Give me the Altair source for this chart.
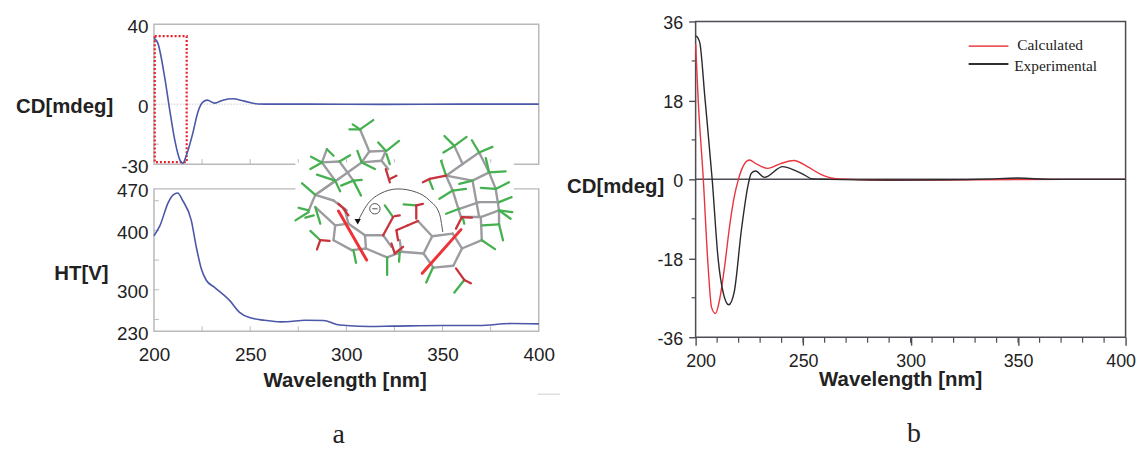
import altair as alt
import pandas as pd

# ---------- curve values ----------
CD_W = [200, 202, 205.6, 208.2, 210.8, 213.4, 215, 216.7, 220.2, 222.8, 225.4, 227.7, 231.5, 235.8, 241, 247, 254, 262, 280, 320, 360, 400]
CD_V = [33, 30.5, 13.3, -3, -17.9, -27.7, -29.5, -26, -14.5, -4, 1, 2, 0.5, 2, 2.7, 1.5, 0.1, 0, 0, -0.1, 0, 0]

HT_W = [200, 203.1, 207.4, 210, 212.3, 215, 219.4, 222, 224.6, 227.2, 231.5, 239.3, 244.5, 249.6, 257.5, 265.8, 269, 278.7, 288.2, 295, 300, 312, 324, 350, 369, 386, 400]
HT_V = [391, 408, 447, 460, 463, 450, 417, 372, 335.5, 316, 304, 282, 262, 253, 248.5, 245.8, 246, 248.7, 248.2, 241.4, 239.8, 238, 238.6, 239.8, 239.8, 243, 242.5]

EXP_W = [200, 201, 202, 204.3, 207.7, 210.5, 212.8, 215.4, 217.9, 221.3, 224.4, 225.9, 227.9, 232, 240.5, 245.9, 250.5, 254.3, 262, 290, 315, 335, 350, 365, 400]
EXP_V = [32.7, 32.3, 31, 18.7, 0, -18.3, -25.8, -28.6, -25.8, -11.5, -1.3, 1.4, 1.9, 0.45, 2.9, 2.1, 1, 0.1, 0, -0.15, -0.1, 0.05, 0.3, 0, 0]

CALC_W = [200, 201.2, 203.5, 205.8, 207.4, 209.2, 211.2, 213.5, 215.8, 218, 219.9, 222, 225, 228, 233.5, 239.6, 245.7, 252, 258, 264.4, 272, 290, 315, 350, 400]
CALC_V = [30.8, 18, 0.6, -19.8, -29.2, -30.6, -27.3, -19.8, -10.7, -3.9, 0, 2.9, 4.4, 3.6, 2.5, 3.6, 4.3, 2.9, 1.2, 0.2, 0, -0.2, -0.15, -0.05, 0]

# ---------- axis ticks ----------
W_TICKS = [200, 250, 300, 350, 400]
W_INNER = [225, 250, 275, 300, 325, 350, 375]
W_MINOR = list(range(210, 400, 10))
CD_TICKS = [-30, -20, 0, 20, 40]
CD_INNER = [-20]
HT_TICKS = [230, 300, 400, 470]
HT_INNER = [250, 300, 350, 400, 450]
B_TICKS = [-36, -18, 0, 18, 36]
B_MINOR = [-27, -9, 9, 27]

# ---------- molecule inset, in inset coordinates ----------
GRAY = [(240,85,268,152),(268,152,318,150),(318,150,305,180),(305,180,325,205),(268,152,245,185),(245,185,305,180),
        (245,185,175,235),(175,235,105,283),(105,283,85,330),(140,145,125,185),(125,185,178,182),(178,182,220,240),
        (125,185,165,240),(165,240,105,283),(105,283,160,300),(160,300,200,330),(105,320,165,375),(165,375,205,370),
        (205,370,255,405),(255,405,258,445),(258,445,215,450),(215,450,160,420),(160,420,165,375),(205,370,195,330),
        (255,405,310,405),(310,405,335,440),(258,445,322,472),(322,472,365,455),(365,455,360,420),(365,455,432,460),
        (432,460,458,408),(458,408,415,362),(458,408,520,400),(520,400,548,445),(548,445,522,497),(522,497,462,503),
        (462,503,432,460),(548,445,608,420),(608,420,605,350),(605,350,545,350),(545,350,520,270),(520,270,500,225),
        (500,225,550,190),(550,190,525,135),(550,190,600,155),(600,155,630,215),(630,215,580,240),(580,240,500,225),
        (580,240,600,350),(630,215,650,265),(650,265,660,330),(660,330,605,350),(540,325,600,305),(600,305,660,305),
        (660,330,660,372)]
GREEN = [(240,85,280,57),(240,85,218,70),(240,85,208,85),(320,150,358,120),(318,150,295,125),(320,160,330,190),
         (245,185,232,150),(245,185,285,205),(140,145,160,165),(125,185,92,168),(125,185,90,205),(178,182,210,163),
         (165,240,110,222),(165,240,180,272),(220,240,245,238),(220,240,183,255),(220,240,243,285),(105,283,65,248),
         (85,330,55,322),(85,335,45,360),(105,320,120,370),(100,345,75,352),(120,420,90,392),(220,450,228,488),
         (322,472,322,525),(340,350,315,315),(360,455,358,485),(410,315,372,312),(460,503,440,548),(555,540,525,578),
         (525,135,495,105),(525,135,562,108),(525,135,492,155),(600,155,578,118),(600,155,640,138),(630,215,620,172),
         (630,215,680,212),(580,240,540,250),(500,225,485,180),(520,270,480,295),(520,270,560,265),(650,265,605,262),
         (650,265,690,245),(660,305,698,290),(660,330,700,335),(660,330,695,355),(660,372,610,375),(660,372,672,420),
         (540,325,500,340),(550,350,555,370),(608,420,648,447),(450,240,460,265)]
DARK_RED = [(190,325,205,345),(175,310,195,328),(120,420,148,422),(120,420,110,448),(345,347,360,345),(310,405,340,350),
            (335,430,345,460),(345,460,370,440),(350,390,385,375),(350,390,355,420),(410,315,410,355),(410,315,430,310),
            (450,235,430,245),(450,235,500,225),(318,205,330,245),(330,235,350,225),(548,350,578,352),(548,350,530,385),
            (530,505,555,540),(555,540,575,550),(415,362,385,375)]
BRIGHT_RED = [(175,332,260,480),(545,388,428,520)]
ARC_X = [490, 480, 450, 410, 355, 300, 260, 235]
ARC_Y = [395, 340, 300, 275, 265, 280, 315, 360]
GAP = [(45, 185, 705, 275)]

DARK = "#222222"
LEFT_FRAME = "#b9b9b9"
RIGHT_FRAME = "#4c4c55"
BLUE = "#4b57a8"
SANS = "Liberation Sans"
SERIF = "Liberation Serif"

W_TOP, TOP_GAP, H_TOP, H_BOT = 387.5, 2.7, 143.7, 143.4
W_R, H_R = 433, 318

def frame(color, width):
    return alt.ViewConfig(stroke=color, strokeWidth=width)

def curve(w, v, field):
    return pd.DataFrame({"w": w, field: v})

# ---------- shared left-hand x ----------
xl = alt.Scale(domain=[200, 400], range=[0, W_TOP], nice=False)

def inner_x(height, color):
    return alt.Chart(pd.DataFrame({"w": W_INNER})).mark_rule(color=color, strokeWidth=1).encode(
        x=alt.X("w:Q", scale=xl), y=alt.value(height - 5), y2=alt.value(height))

def inner_y(vals, scale, color):
    return alt.Chart(pd.DataFrame({"v": vals})).mark_rule(color=color, strokeWidth=1).encode(
        y=alt.Y("v:Q", scale=scale), x=alt.value(0), x2=alt.value(5))

# ---------- panel a, top ----------
yt = alt.Scale(domain=[-30, 40], range=[H_TOP, TOP_GAP], nice=False)
cd_line = alt.Chart(curve(CD_W, CD_V, "v")).mark_line(color=BLUE, strokeWidth=1.6, interpolate="monotone").encode(
    x=alt.X("w:Q", scale=xl, axis=alt.Axis(labels=False, ticks=False, domain=False, grid=False, title=None)),
    y=alt.Y("v:Q", scale=yt, axis=alt.Axis(
        values=CD_TICKS, labelExpr="datum.value == -20 ? '' : '' + datum.value", ticks=False, domain=False, grid=False,
        labelFontSize=19, labelColor=DARK, labelPadding=6, labelOffset=2,
        title="CD[mdeg]", titleAngle=0, titleFontSize=20.5, titleFontWeight="bold", titleColor=DARK,
        titleAlign="center", titleBaseline="middle", titleX=-90.5, titleY=86)))
top_frame = alt.Chart(pd.DataFrame({"a": [200], "b": [400], "c": [40], "d": [-30]})).mark_rect(
    filled=False, stroke=LEFT_FRAME, strokeWidth=1.5).encode(
    x=alt.X("a:Q", scale=xl), x2="b:Q", y=alt.Y("c:Q", scale=yt), y2="d:Q")
zero_dots = alt.Chart(pd.DataFrame({"v": [0]})).mark_rule(color="#c8c8c8", strokeWidth=1, strokeDash=[1.5, 1.5]).encode(
    y=alt.Y("v:Q", scale=yt))
dotted_box = alt.Chart(pd.DataFrame({"a": [200.4], "b": [217], "c": [34], "d": [-29]})).mark_rect(
    filled=False, stroke="#e8212b", strokeWidth=2.2, strokeDash=[2, 2]).encode(
    x=alt.X("a:Q", scale=xl), x2="b:Q", y=alt.Y("c:Q", scale=yt), y2="d:Q")
top = alt.layer(top_frame, zero_dots, inner_x(H_TOP, LEFT_FRAME), inner_y(CD_INNER, yt, LEFT_FRAME), dotted_box, cd_line).properties(
    width=W_TOP, height=H_TOP, view=alt.ViewConfig(stroke=None))

# ---------- panel a, bottom ----------
yb = alt.Scale(domain=[230, 470], range=[H_BOT, 0], nice=False)
ht_line = alt.Chart(curve(HT_W, HT_V, "v")).mark_line(color=BLUE, strokeWidth=1.6, interpolate="monotone").encode(
    x=alt.X("w:Q", scale=xl, axis=alt.Axis(
        values=W_TICKS, ticks=False, domain=False, grid=False, labelFontSize=19, labelColor=DARK, labelPadding=14,
        labelFlush=False, title="Wavelength [nm]", titleFontSize=20.5, titleFontWeight="bold", titleColor=DARK,
        titleX=192, titleY=50, titleBaseline="middle", titleAlign="center")),
    y=alt.Y("v:Q", scale=yb, axis=alt.Axis(
        values=HT_TICKS, ticks=False, domain=False, grid=False, labelFontSize=19, labelColor=DARK, labelPadding=6, labelOffset=2,
        title="HT[V]", titleAngle=0, titleFontSize=20.5, titleFontWeight="bold", titleColor=DARK,
        titleAlign="center", titleBaseline="middle", titleX=-73.5, titleY=85)))
stray = alt.Chart(pd.DataFrame({"a": [399.5], "b": [411]})).mark_rule(color="#cfcfcf", strokeWidth=1).encode(
    x=alt.X("a:Q", scale=xl), x2="b:Q", y=alt.value(395 - 188.3))
label_a = alt.Chart(pd.DataFrame({"w": [296], "t": ["a"]})).mark_text(
    font=SERIF, fontSize=28, color=DARK, baseline="alphabetic").encode(
    x=alt.X("w:Q", scale=xl), y=alt.value(444 - 188.3), text="t:N")
bottom_base = alt.layer(inner_x(H_BOT, LEFT_FRAME), inner_y(HT_INNER, yb, LEFT_FRAME), stray, label_a, ht_line)

# molecule inset, on scales of its own
mx = alt.Scale(domain=[0, 780], range=[127.5, 387.5], nice=False)
my = alt.Scale(domain=[0, 660], range=[-88.3, 131.7], nice=False)

def bonds(rows, color, width):
    d = pd.DataFrame(rows, columns=["x1", "y1", "x2", "y2"])
    return alt.Chart(d).mark_rule(color=color, strokeWidth=width, strokeCap="round").encode(
        x=alt.X("x1:Q", scale=mx, axis=None), x2="x2:Q", y=alt.Y("y1:Q", scale=my, axis=None), y2="y2:Q")

gap = alt.Chart(pd.DataFrame(GAP, columns=["x1", "y1", "x2", "y2"])).mark_rect(fill="white").encode(
    x=alt.X("x1:Q", scale=mx, axis=None), x2="x2:Q", y=alt.Y("y1:Q", scale=my, axis=None), y2="y2:Q")
arc = alt.Chart(pd.DataFrame({"x": ARC_X, "y": ARC_Y, "o": list(range(len(ARC_X)))})).mark_line(
    color="#555555", strokeWidth=1, interpolate="monotone").encode(
    x=alt.X("x:Q", scale=mx, axis=None), y=alt.Y("y:Q", scale=my, axis=None), order="o:Q")
arrow = alt.Chart(pd.DataFrame({"x": [233], "y": [364]})).mark_point(
    shape="triangle-down", filled=True, color="#111111", size=40, opacity=1).encode(
    x=alt.X("x:Q", scale=mx, axis=None), y=alt.Y("y:Q", scale=my, axis=None))
ring = alt.Chart(pd.DataFrame({"x": [285], "y": [325]})).mark_point(
    shape="circle", filled=False, color="#555555", size=110, strokeWidth=1, opacity=1).encode(
    x=alt.X("x:Q", scale=mx, axis=None), y=alt.Y("y:Q", scale=my, axis=None))
minus = alt.Chart(pd.DataFrame({"x1": [277], "x2": [293], "y1": [325]})).mark_rule(color="#555555", strokeWidth=1).encode(
    x=alt.X("x1:Q", scale=mx, axis=None), x2="x2:Q", y=alt.Y("y1:Q", scale=my, axis=None))
molecule = alt.layer(gap, bonds(GRAY, "#9b9ba0", 2.4), bonds(GREEN, "#45b04f", 2.3), bonds(DARK_RED, "#c8323a", 2.3),
                     bonds(BRIGHT_RED, "#ee3338", 3), arc, arrow, ring, minus)

bottom = alt.layer(bottom_base, molecule).resolve_scale(x="independent", y="independent").properties(
    width=W_TOP, height=H_BOT, view=frame(LEFT_FRAME, 1.5))

panel_a = alt.vconcat(top, bottom, spacing=24.6, bounds="flush")

# ---------- panel b ----------
xr = alt.Scale(domain=[200, 400], range=[0, W_R], nice=False)
yr = alt.Scale(domain=[-36, 36], range=[H_R, 0], nice=False)
zero_b = alt.Chart(pd.DataFrame({"v": [0]})).mark_rule(color=RIGHT_FRAME, strokeWidth=1.5).encode(
    y=alt.Y("v:Q", scale=yr))
calc_line = alt.Chart(curve(CALC_W, CALC_V, "v")).mark_line(color="#e8343c", strokeWidth=1.4, interpolate="monotone").encode(
    x=alt.X("w:Q", scale=xr), y=alt.Y("v:Q", scale=yr))
exp_line = alt.Chart(curve(EXP_W, EXP_V, "v")).mark_line(color="#2a2a2e", strokeWidth=1.4, interpolate="monotone").encode(
    x=alt.X("w:Q", scale=xr, axis=alt.Axis(
        values=W_TICKS, tickSize=8, tickColor=RIGHT_FRAME, tickWidth=1.4, domain=False, grid=False,
        labelFontSize=18, labelColor=DARK, labelPadding=7, labelFlush=True, labelFlushOffset=10,
        title="Wavelength [nm]", titleFontSize=20.5, titleFontWeight="bold", titleColor=DARK,
        titleX=206, titleY=43, titleBaseline="middle", titleAlign="center")),
    y=alt.Y("v:Q", scale=yr, axis=alt.Axis(
        values=B_TICKS, labelExpr="'' + datum.value", tickSize=7, tickColor=RIGHT_FRAME, tickWidth=1.4, domain=False, grid=False,
        labelFontSize=18, labelColor=DARK, labelPadding=6, labelOffset=2,
        title="CD[mdeg]", titleAngle=0, titleFontSize=20.5, titleFontWeight="bold", titleColor=DARK,
        titleAlign="center", titleBaseline="middle", titleX=-81, titleY=166)))
minor_x = alt.Chart(pd.DataFrame({"w": W_MINOR})).mark_rule(color=RIGHT_FRAME, strokeWidth=1.2).encode(
    x=alt.X("w:Q", scale=xr), y=alt.value(H_R), y2=alt.value(H_R + 5.5))
minor_y = alt.Chart(pd.DataFrame({"v": B_MINOR})).mark_rule(color=RIGHT_FRAME, strokeWidth=1.2).encode(
    y=alt.Y("v:Q", scale=yr), x=alt.value(-4), x2=alt.value(0))

LEG_NAMES = ["Calculated", "Experimental"]
LEG_COLORS = ["#ea5a60", "#2f2f33"]
LEG_LINE_V = [30.4, 26.3]
LEG_TEXT_W = [149.6 + 200, 148.2 + 200]
LEG_TEXT_V = [30.6, 25.9]
LEG_X1, LEG_X2 = 327, 345.5

leg = pd.DataFrame({"n": LEG_NAMES, "c": LEG_COLORS, "lv": LEG_LINE_V, "tw": LEG_TEXT_W, "tv": LEG_TEXT_V,
                    "x1": [LEG_X1] * 2, "x2": [LEG_X2] * 2})
leg_lines = alt.Chart(leg).mark_rule(strokeWidth=1.8).encode(
    x=alt.X("x1:Q", scale=xr), x2="x2:Q", y=alt.Y("lv:Q", scale=yr),
    color=alt.Color("c:N", scale=None, legend=None))
leg_text = alt.Chart(leg).mark_text(font=SERIF, fontSize=15.5, color=DARK, align="left", baseline="middle").encode(
    x=alt.X("tw:Q", scale=xr), y=alt.Y("tv:Q", scale=yr), text="n:N")
label_b = alt.Chart(pd.DataFrame({"w": [301.6], "t": ["b"]})).mark_text(
    font=SERIF, fontSize=28, color=DARK, baseline="alphabetic").encode(
    x=alt.X("w:Q", scale=xr), y=alt.value(444 - 20), text="t:N")

panel_b = alt.layer(minor_x, minor_y, zero_b, calc_line, exp_line, leg_lines, leg_text, label_b).properties(
    width=W_R, height=H_R, view=frame(RIGHT_FRAME, 1.5))

chart = alt.hconcat(panel_a, panel_b, spacing=3.5).properties(
    background="white", autosize=alt.AutoSizeParams(type="none"),
    padding={"left": 147, "top": 12, "right": 991, "bottom": 428}
).configure_axis(labelFont=SANS, titleFont=SANS).configure_text(font=SANS)

chart.save("out.html", embed_options={"renderer": "svg", "actions": False})
